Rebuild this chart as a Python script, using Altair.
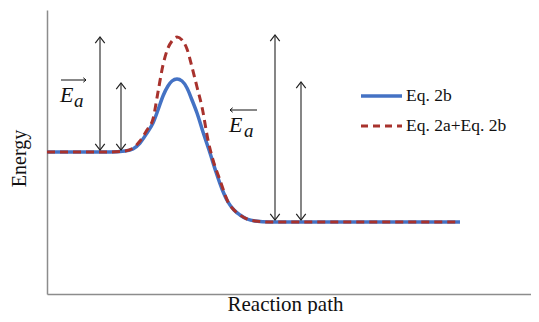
import altair as alt
import pandas as pd

# ---- data ----
blue_x = [0, 33, 63, 78, 86, 93, 100, 106, 111, 116, 121, 125, 130, 135, 140, 145, 150, 156, 163, 169, 175, 181, 187, 193, 200, 208, 223, 273, 353, 413]
blue_y = [142, 142, 142, 143, 145, 151, 161, 171, 184, 198, 208, 213, 215, 213, 206, 194, 181, 162, 141, 122, 105, 92, 84, 79, 75, 73, 72, 72, 72, 72]

red_x = [0, 33, 63, 78, 86, 93, 100, 106, 111, 116, 121, 125, 130, 135, 140, 145, 150, 155, 161, 166, 173, 181, 187, 193, 200, 208, 223, 273, 353, 413]
red_y = [142, 142, 142, 143, 146, 153, 164, 175, 202, 229, 246, 253, 257, 254, 245, 227, 207, 187, 154, 134, 114, 92, 84, 79, 75, 73, 72, 72, 72, 72]

series_names = ["Eq. 2b", "Eq. 2a+Eq. 2b"]
series_colors = ["#4472C4", "#A8322D"]

# double-headed arrows (activation energies)
arrow_x = [53, 74, 228, 254]
arrow_top = [257, 211, 259, 212]
arrow_bottom = [144, 144, 74, 74]

# label texts
label_x = [13, 182]
label_y = [192, 162]
sub_x = [27, 197]
sub_y = [187, 157]
over_x1 = [14, 183]
over_x2 = [39, 210]
over_y = [214, 184]
over_head_x = [39, 183]
over_head_angle = [90, 270]

# legend
legend_x1 = 314
legend_x2 = 355
legend_text_x = 359
legend_y = [198, 168]

SERIF = "Liberation Serif"

xs = alt.Scale(domain=[0, 484], nice=False, zero=False)
ys = alt.Scale(domain=[0, 284], nice=False, zero=False)
cscale = alt.Scale(domain=series_names, range=series_colors)

blue_df = pd.DataFrame({"x": blue_x, "y": blue_y, "series": series_names[0]})
red_df = pd.DataFrame({"x": red_x, "y": red_y, "series": series_names[1]})

x_enc = alt.X("x:Q", scale=xs, axis=alt.Axis(
    title="Reaction path", ticks=False, labels=False, grid=False,
    domainColor="#8c8c8c", domainWidth=1.5,
    titleFont=SERIF, titleFontSize=21, titleFontWeight="normal", titleColor="#111",
    titleX=238, titleY=16, titleAlign="center", titleBaseline="alphabetic"))
y_enc = alt.Y("y:Q", scale=ys, axis=alt.Axis(
    title="Energy", ticks=False, labels=False, grid=False,
    domainColor="#8c8c8c", domainWidth=1.5,
    titleFont=SERIF, titleFontSize=20, titleFontWeight="normal", titleColor="#111",
    titleX=-28, titleY=148, titleAngle=270, titleAlign="center", titleBaseline="middle"))

blue_line = alt.Chart(blue_df).mark_line(strokeWidth=3.5, interpolate="monotone").encode(
    x=x_enc, y=y_enc, color=alt.Color("series:N", scale=cscale, legend=None))
red_line = alt.Chart(red_df).mark_line(strokeWidth=3, strokeDash=[8, 5], interpolate="monotone").encode(
    x=alt.X("x:Q", scale=xs), y=alt.Y("y:Q", scale=ys),
    color=alt.Color("series:N", scale=cscale, legend=None))

arr_df = pd.DataFrame({"x": arrow_x, "top": arrow_top, "bottom": arrow_bottom})
arrows = alt.Chart(arr_df).mark_rule(color="#222", strokeWidth=1.1).encode(
    x=alt.X("x:Q", scale=xs), y=alt.Y("top:Q", scale=ys), y2="bottom:Q")
chevron = "M-1,1.3L0,0L1,1.3"
heads_top = alt.Chart(arr_df).mark_point(shape=chevron, filled=False, color="#222",
                                          strokeWidth=1.2, size=90, opacity=1).encode(
    x=alt.X("x:Q", scale=xs), y=alt.Y("top:Q", scale=ys))
heads_bot = alt.Chart(arr_df).mark_point(shape=chevron, filled=False, color="#222",
                                          strokeWidth=1.2, size=90, opacity=1, angle=180).encode(
    x=alt.X("x:Q", scale=xs), y=alt.Y("bottom:Q", scale=ys))

lab_df = pd.DataFrame({"x": label_x, "y": label_y, "t": ["E", "E"]})
sub_df = pd.DataFrame({"x": sub_x, "y": sub_y, "t": ["a", "a"]})
E_text = alt.Chart(lab_df).mark_text(font=SERIF, fontStyle="italic", fontSize=22, align="left",
                                     baseline="alphabetic", color="#111").encode(
    x=alt.X("x:Q", scale=xs), y=alt.Y("y:Q", scale=ys), text="t:N")
a_text = alt.Chart(sub_df).mark_text(font=SERIF, fontStyle="italic", fontSize=19, align="left",
                                     baseline="alphabetic", color="#111").encode(
    x=alt.X("x:Q", scale=xs), y=alt.Y("y:Q", scale=ys), text="t:N")

over_df = pd.DataFrame({"x1": over_x1, "x2": over_x2, "y": over_y,
                        "hx": over_head_x, "ang": over_head_angle})
over_rules = alt.Chart(over_df).mark_rule(color="#111", strokeWidth=1).encode(
    x=alt.X("x1:Q", scale=xs), x2="x2:Q", y=alt.Y("y:Q", scale=ys))
over_heads = alt.Chart(over_df).mark_point(shape="M-1,1.2L0,0L1,1.2", filled=False, color="#111",
                                           strokeWidth=1, size=20, opacity=1).encode(
    x=alt.X("hx:Q", scale=xs), y=alt.Y("y:Q", scale=ys),
    angle=alt.Angle("ang:Q", scale=alt.Scale(domain=[0, 360], range=[0, 360])))

leg_df = pd.DataFrame({"series": series_names, "y": legend_y,
                       "x1": [legend_x1] * 2, "x2": [legend_x2] * 2, "tx": [legend_text_x] * 2})
leg_blue = alt.Chart(leg_df.iloc[[0]]).mark_rule(strokeWidth=3.5).encode(
    x=alt.X("x1:Q", scale=xs), x2="x2:Q", y=alt.Y("y:Q", scale=ys),
    color=alt.Color("series:N", scale=cscale, legend=None))
leg_red = alt.Chart(leg_df.iloc[[1]]).mark_rule(strokeWidth=3, strokeDash=[7, 5]).encode(
    x=alt.X("x1:Q", scale=xs), x2="x2:Q", y=alt.Y("y:Q", scale=ys),
    color=alt.Color("series:N", scale=cscale, legend=None))
leg_text = alt.Chart(leg_df).mark_text(font=SERIF, fontSize=17.5, align="left", baseline="middle",
                                       color="#111").encode(
    x=alt.X("tx:Q", scale=xs), y=alt.Y("y:Q", scale=ys), text="series:N")

chart = alt.layer(
    blue_line, red_line, arrows, heads_top, heads_bot, E_text, a_text,
    over_rules, over_heads, leg_blue, leg_red, leg_text
).properties(
    width=484, height=284,
    autosize=alt.AutoSizeParams(type="none"),
    padding={"left": 39, "top": 2, "right": 0, "bottom": 20},
    background="white",
).configure_view(strokeWidth=0)

chart.save("out.html", embed_options={"renderer": "svg", "actions": False})
